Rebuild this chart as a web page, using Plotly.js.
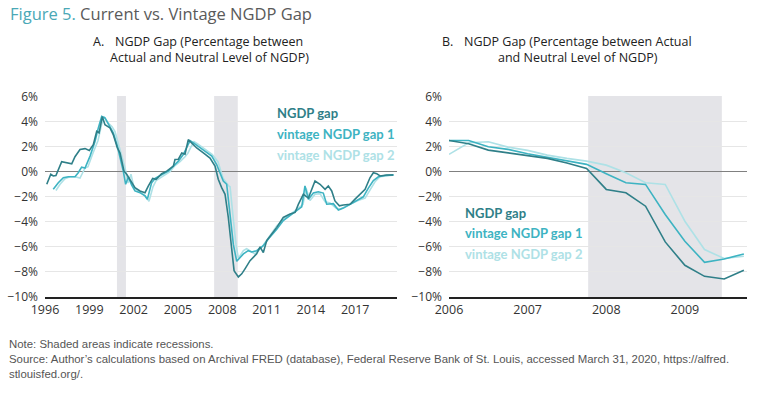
<!DOCTYPE html>
<html><head><meta charset="utf-8">
<script src="https://cdn.plot.ly/plotly-3.0.1.min.js"></script>
<style>html,body{margin:0;padding:0;background:#fff}#chart{width:768px;height:393px}</style>
</head><body><div id="chart"></div>
<script>
// ---- Panel A data (decimal years, % gap) ----
const gapA_x = [1996.12,1996.39,1996.56,1996.74,1997.13,1997.47,1997.81,1998.03,1998.37,1998.71,1999.00,1999.27,1999.50,1999.66,1999.88,2000.06,2000.40,2000.62,2000.90,2001.08,2001.35,2001.53,2001.76,2002.09,2002.43,2002.77,2003.00,2003.29,2003.52,2003.90,2004.24,2004.46,2004.69,2004.80,2005.03,2005.26,2005.48,2005.70,2005.93,2006.27,2006.72,2007.17,2007.51,2007.73,2007.96,2008.19,2008.41,2008.64,2008.80,2009.09,2009.32,2009.54,2009.88,2010.33,2010.56,2010.78,2011.01,2011.69,2012.13,2012.59,2012.93,2013.15,2013.49,2013.83,2014.28,2014.62,2014.96,2015.18,2015.41,2015.63,2015.93,2016.20,2016.65,2016.99,2017.33,2017.67,2018.00,2018.23,2018.46,2018.68,2019.13,2019.58];
const gapA_y = [-1.0,-0.2,-0.34,-0.3,0.8,0.72,0.64,1.2,1.78,1.85,1.7,2.17,3.23,3.1,4.4,3.76,3.5,2.97,1.9,1.5,0.05,-0.2,-0.68,-1.27,-1.53,-1.67,-1.13,-0.53,-0.6,-0.16,0.05,0.25,0.45,0.98,1.0,1.5,1.4,2.57,2.3,1.9,1.5,1.1,0.45,-0.6,-1.27,-1.8,-3.65,-6.0,-7.9,-8.4,-8.15,-7.75,-7.1,-6.55,-6.0,-6.45,-5.5,-4.44,-3.65,-3.38,-3.25,-2.6,-1.8,-2.1,-0.74,-1.0,-1.4,-1.13,-1.53,-2.33,-2.72,-2.65,-2.59,-2.19,-1.8,-1.4,-0.48,-0.08,-0.15,-0.34,-0.26,-0.26];

const v1A_x = [1996.56,1996.90,1997.24,1997.58,1998.03,1998.25,1998.48,1998.71,1999.05,1999.39,1999.61,1999.84,2000.06,2000.40,2000.62,2000.90,2001.13,2001.30,2001.46,2001.64,2001.87,2002.09,2002.43,2002.77,2002.93,2003.22,2003.45,2003.90,2004.35,2004.69,2005.03,2005.36,2005.59,2005.82,2005.93,2006.38,2006.83,2007.29,2007.62,2007.85,2008.07,2008.30,2008.53,2008.75,2008.98,2009.20,2009.43,2009.76,2009.99,2010.33,2010.78,2011.12,2011.69,2012.13,2012.59,2013.04,2013.38,2013.60,2013.83,2014.17,2014.50,2014.84,2015.07,2015.52,2015.86,2016.20,2016.65,2017.10,2017.55,2017.89,2018.23,2018.57,2019.02,2019.58];
const v1A_y = [-1.4,-0.87,-0.48,-0.4,-0.4,-0.08,0.37,0.3,1.25,2.44,3.5,4.42,4.3,3.5,3.1,2.04,0.98,0.05,-1.0,-0.42,-1.06,-1.53,-1.67,-1.93,-2.19,-0.87,-0.53,-0.21,0.05,0.45,0.85,1.38,1.9,2.49,2.4,2.04,1.64,1.25,0.58,-0.08,-0.74,-1.0,-3.6,-5.8,-7.15,-6.83,-6.56,-6.3,-6.4,-6.3,-5.9,-5.37,-4.6,-3.9,-3.5,-3.1,-2.8,-1.13,-2.2,-1.7,-1.6,-1.7,-2.59,-2.55,-3.05,-2.9,-2.6,-2.3,-2.0,-1.3,-0.7,-0.4,-0.3,-0.25];

const v2A_x = [1996.74,1997.02,1997.35,1997.69,1998.03,1998.37,1998.71,1998.91,1999.25,1999.59,1999.84,1999.99,2000.27,2000.54,2000.74,2000.94,2001.21,2001.42,2001.62,2001.82,2002.03,2002.43,2002.77,2003.04,2003.31,2003.52,2003.92,2004.46,2004.80,2005.14,2005.48,2005.68,2005.89,2006.09,2006.36,2006.83,2007.31,2007.71,2007.92,2008.05,2008.41,2008.53,2008.75,2008.93,2009.09,2009.43,2009.65,2009.99,2010.22,2010.69,2011.10,2011.71,2012.18,2012.59,2013.06,2013.47,2013.67,2013.94,2014.28,2014.62,2014.96,2015.30,2015.70,2015.97,2016.31,2016.79,2017.19,2017.67,2018.00,2018.34,2018.68,2019.15,2019.63];
const v2A_y = [-1.5,-1.0,-0.55,-0.4,-0.4,-0.5,0.3,0.4,1.5,2.5,3.8,4.4,3.9,3.6,3.2,2.4,1.2,0.3,-0.9,-0.2,-1.3,-1.6,-1.9,-2.35,-1.2,-0.7,-0.4,0.0,0.5,0.8,1.2,1.5,2.0,2.4,2.2,1.8,1.4,0.8,0.1,-0.5,-1.1,-1.2,-3.8,-5.8,-6.9,-6.3,-6.15,-6.4,-6.56,-6.0,-5.3,-4.3,-3.8,-3.4,-3.0,-2.6,-1.3,-2.3,-1.8,-1.75,-2.4,-2.5,-2.9,-3.0,-2.8,-2.5,-2.3,-2.1,-1.5,-0.8,-0.4,-0.3,-0.25];

const recessionsA = [[2000.87, 2001.48], [2007.45, 2009.05]];
const ticksA = [1996,1999,2002,2005,2008,2011,2014,2017];

// ---- Panel B data (quarterly, 2006Q1–2009Q4) ----
const quartersB = [2006.0,2006.25,2006.5,2006.75,2007.0,2007.25,2007.5,2007.75,2008.0,2008.25,2008.5,2008.75,2009.0,2009.25,2009.5,2009.75];
const gapB = [2.5,2.24,1.73,1.52,1.28,1.07,0.7,0.27,-1.41,-1.68,-2.75,-5.6,-7.47,-8.35,-8.56,-7.87];
const v1B  = [2.5,2.5,2.0,1.79,1.44,1.17,0.9,0.59,-0.16,-0.88,-1.01,-3.41,-5.55,-7.23,-6.96,-6.56];
const v2B  = [1.39,2.32,2.4,1.97,1.71,1.33,1.07,0.85,0.53,-0.08,-0.88,-1.01,-3.95,-6.21,-6.93,-6.75];
const recessionsB = [[2007.77, 2009.47]];
const ticksB = [2006,2007,2008,2009];

const yTicks = [-10,-8,-6,-4,-2,0,2,4,6];
const yTickText = yTicks.map(v => (v < 0 ? '\u2212' + Math.abs(v) : String(v)) + '%');

const seriesNames = ['NGDP gap','vintage NGDP gap 1','vintage NGDP gap 2'];
const colors = ['#2f7f88','#3db3c2','#aee1e6'];

const W = 768, H = 393;
const px = v => v / W, py = v => 1 - v / H;

const traces = [
  {x: v2A_x, y: v2A_y, xaxis:'x', yaxis:'y', c:2},
  {x: v1A_x, y: v1A_y, xaxis:'x', yaxis:'y', c:1},
  {x: gapA_x, y: gapA_y, xaxis:'x', yaxis:'y', c:0},
  {x: quartersB, y: v2B, xaxis:'x2', yaxis:'y2', c:2},
  {x: quartersB, y: v1B, xaxis:'x2', yaxis:'y2', c:1},
  {x: quartersB, y: gapB, xaxis:'x2', yaxis:'y2', c:0}
].map(t => ({x:t.x, y:t.y, xaxis:t.xaxis, yaxis:t.yaxis, type:'scatter', mode:'lines',
  name: seriesNames[t.c], line:{color:colors[t.c], width:1.6}, showlegend:false, hoverinfo:'skip'}));

const tickFont = {family:'Open Sans, sans-serif', size:12, color:'#333'};
const yax = dom => ({domain:dom, range:[-10,6.05], tickmode:'array', tickvals:yTicks, ticktext:yTickText,
  showgrid:true, gridcolor:'#e6e6e6', gridwidth:1, zeroline:true, zerolinecolor:'#808080', zerolinewidth:1.3,
  showline:false, ticks:'', tickfont:tickFont, ticklabelstandoff:6, fixedrange:true});
const yDom = [py(297), py(96)];

const shapes = [];
recessionsA.forEach(r => shapes.push({type:'rect', xref:'x', yref:'y domain', x0:r[0], x1:r[1], y0:0, y1:1, fillcolor:'#e4e4e8', line:{width:0}, layer:'below'}));
recessionsB.forEach(r => shapes.push({type:'rect', xref:'x2', yref:'y2 domain', x0:r[0], x1:r[1], y0:0, y1:1, fillcolor:'#e4e4e8', line:{width:0}, layer:'below'}));

const ann = [];
const txt = (x, y, text, opts={}) => ann.push(Object.assign({xref:'paper', yref:'paper', x:px(x), y:py(y), text:text,
  showarrow:false, xanchor:'left', yanchor:'middle', font:{family:'Open Sans, sans-serif', size:12.5, color:'#222'}}, opts));

// Figure title
txt(8, 14, '<span style="color:#4aa8b6">Figure 5.</span> Current vs. Vintage NGDP Gap', {font:{family:'Open Sans, sans-serif', size:16.5, color:'#5a5a5a'}});
// Panel subtitles
txt(91, 42, 'A.');
txt(113, 42, 'NGDP Gap (Percentage between');
txt(108, 58, 'Actual and Neutral Level of NGDP)');
txt(440, 42, 'B.');
txt(462, 42, 'NGDP Gap (Percentage between Actual');
txt(496, 58, 'and Neutral Level of NGDP)');
// Legends as labels
const legFont = c => ({family:'Lato, sans-serif', size:13, color:colors[c], weight:700});
[113,134,155].forEach((y,i) => txt(275, y, seriesNames[i], {font:legFont(i)}));
[213,233,254].forEach((y,i) => txt(463, y, seriesNames[i], {font:legFont(i)}));
// Notes
const noteFont = {family:'Liberation Sans, Arial, sans-serif', size:11.4, color:'#555'};
txt(7, 344, 'Note: Shaded areas indicate recessions.', {font:noteFont});
txt(7, 359, 'Source: Author’s calculations based on Archival FRED (database), Federal Reserve Bank of St. Louis, accessed March 31, 2020, https://alfred.', {font:noteFont});
txt(7, 374, 'stlouisfed.org/.', {font:noteFont});

const layout = {
  width:W, height:H, margin:{l:0,r:0,t:0,b:0}, paper_bgcolor:'#fff', plot_bgcolor:'rgba(0,0,0,0)',
  xaxis:{domain:[px(45), px(397)], range:[1996, 2019.83], tickmode:'array', tickvals:ticksA, ticktext:ticksA.map(String),
    showgrid:false, zeroline:false, showline:true, linecolor:'#222', linewidth:1.5, ticks:'', tickfont:{...tickFont, size:12.5}, fixedrange:true},
  yaxis: Object.assign(yax(yDom), {anchor:'x'}),
  xaxis2:{domain:[px(449), px(747)], range:[2006, 2009.79], tickmode:'array', tickvals:ticksB, ticktext:ticksB.map(String), anchor:'y2',
    showgrid:false, zeroline:false, showline:true, linecolor:'#222', linewidth:1.5, ticks:'', tickfont:{...tickFont, size:12.5}, fixedrange:true},
  yaxis2: Object.assign(yax(yDom), {anchor:'x2'}),
  shapes: shapes, annotations: ann, showlegend:false
};

Plotly.newPlot('chart', traces, layout, {displayModeBar:false, staticPlot:true});
</script></body></html>
